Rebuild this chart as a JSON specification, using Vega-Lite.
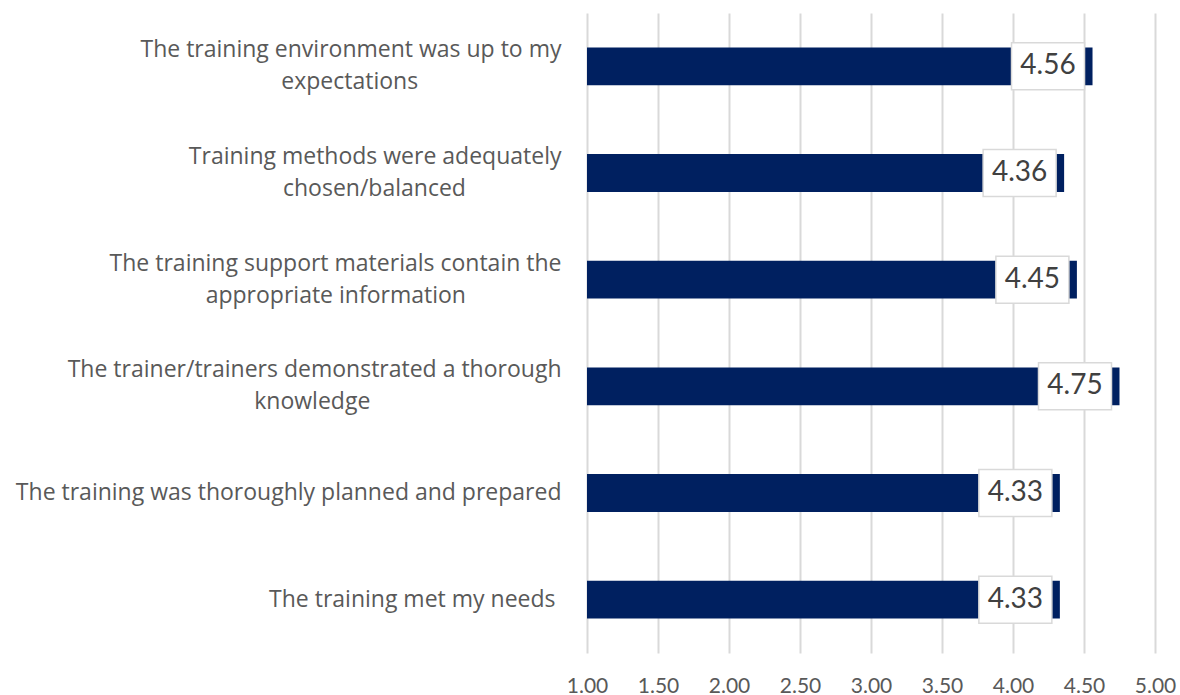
{
  "$schema": "https://vega.github.io/schema/vega-lite/v6.json",
  "autosize": "none",
  "width": 568,
  "height": 640,
  "padding": {"left": 587, "top": 13, "right": 25, "bottom": 42},
  "background": "white",
  "config": {"view": {"stroke": null}, "font": "Lato"},
  "data": {
    "values": [
      {"item": "The training environment was up to my|expectations\u00a0\u00a0\u00a0\u00a0\u00a0\u00a0\u00a0\u00a0\u00a0\u00a0\u00a0\u00a0\u00a0\u00a0\u00a0\u00a0\u00a0\u00a0\u00a0\u00a0\u00a0\u00a0\u00a0\u00a0\u200b", "score": 4.56},
      {"item": "Training methods were adequately|chosen/balanced\u00a0\u00a0\u00a0\u00a0\u00a0\u00a0\u00a0\u00a0\u00a0\u00a0\u00a0\u00a0\u00a0\u00a0\u00a0\u00a0\u200b", "score": 4.36},
      {"item": "The training support materials contain the|appropriate information\u00a0\u00a0\u00a0\u00a0\u00a0\u00a0\u00a0\u00a0\u00a0\u00a0\u00a0\u00a0\u00a0\u00a0\u00a0\u00a0\u200b", "score": 4.45},
      {"item": "The trainer/trainers demonstrated a thorough|knowledge\u00a0\u00a0\u00a0\u00a0\u00a0\u00a0\u00a0\u00a0\u00a0\u00a0\u00a0\u00a0\u00a0\u00a0\u00a0\u00a0\u00a0\u00a0\u00a0\u00a0\u00a0\u00a0\u00a0\u00a0\u00a0\u00a0\u00a0\u00a0\u00a0\u00a0\u00a0\u00a0\u200b", "score": 4.75},
      {"item": "The training was thoroughly planned and prepared", "score": 4.33},
      {"item": "The training met my needs\u00a0\u200b", "score": 4.33}
    ]
  },
  "encoding": {
    "y": {
      "field": "item",
      "type": "nominal",
      "sort": null,
      "scale": {"paddingInner": 0.645, "paddingOuter": 0.3225},
      "axis": {
        "title": null,
        "domain": false,
        "ticks": false,
        "labelPadding": 26,
        "labelFont": "Open Sans",
        "labelFontSize": 23,
        "labelColor": "#595959",
        "labelLimit": 700,
        "labelLineHeight": 32,
        "labelExpr": "split(datum.label, '|')",
        "labelOffset": {"condition": {"test": "indexof(datum.label, '|') >= 0", "value": -16}, "value": 0}
      }
    },
    "x": {
      "field": "score",
      "type": "quantitative",
      "scale": {"domain": [1, 5], "zero": false, "nice": false},
      "axis": {
        "title": null,
        "values": [1, 1.5, 2, 2.5, 3, 3.5, 4, 4.5, 5],
        "format": ".2f",
        "domain": false,
        "ticks": false,
        "labelPadding": 22,
        "labelFont": "Lato",
        "labelFontSize": 21,
        "labelColor": "#595959",
        "gridColor": "#d9d9d9",
        "gridWidth": 2,
        "labelFlush": false
      }
    }
  },
  "layer": [
    {
      "mark": {"type": "bar", "color": "#002060"},
      "encoding": {"x2": {"datum": 1}}
    },
    {
      "mark": {
        "type": "point",
        "shape": "M-1,-0.644L1,-0.644L1,0.644L-1,0.644Z",
        "size": 5329,
        "filled": true,
        "fill": "white",
        "stroke": "#d9d9d9",
        "strokeWidth": 1.5,
        "opacity": 1,
        "xOffset": -44.5
      }
    },
    {
      "mark": {
        "type": "text",
        "font": "Lato",
        "fontSize": 28,
        "color": "#404040",
        "align": "center",
        "baseline": "middle",
        "xOffset": -44.5
      },
      "encoding": {"text": {"field": "score", "type": "quantitative", "format": ".2f"}}
    }
  ]
}
